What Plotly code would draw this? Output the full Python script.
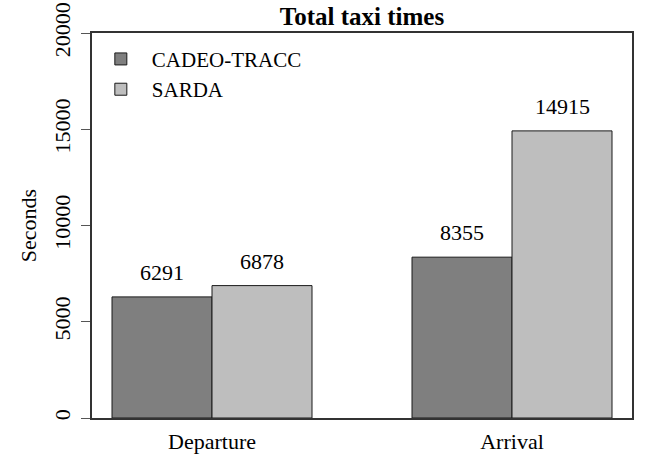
import plotly.graph_objects as go

categories = ["Departure", "Arrival"]
series_names = ["CADEO-TRACC", "SARDA"]
cadeo_values = [6291, 8355]
sarda_values = [6878, 14915]
series_values = [cadeo_values, sarda_values]
series_colors = ["#7f7f7f", "#bebebe"]
y_ticks = [0, 5000, 10000, 15000, 20000]

FONT = "Liberation Serif, Times New Roman, serif"

W, H = 646, 459

fig = go.Figure()
for name, vals, col in zip(series_names, series_values, series_colors):
    fig.add_trace(go.Bar(
        x=categories, y=vals, name=name,
        marker=dict(color=col, line=dict(color="#1a1a1a", width=1)),
    ))

# value labels above bars
shifts = [-50, 50]
for vals, xs in zip(series_values, shifts):
    for cat, v in zip(categories, vals):
        fig.add_annotation(x=cat, y=v, text=str(v), showarrow=False,
                           xshift=xs, yshift=10, yanchor="bottom",
                           font=dict(family=FONT, size=22, color="black"))

fig.update_layout(
    width=W, height=H,
    margin=dict(l=92, r=14, t=33, b=41, pad=0, autoexpand=False),
    paper_bgcolor="white", plot_bgcolor="white",
    barmode="group", bargap=1/3, bargroupgap=0,
    font=dict(family=FONT, size=22, color="black"),
    title=dict(text="<b>Total taxi times</b>", x=0.5, xref="paper",
               y=1 - 16/H, yanchor="middle", xanchor="center",
               font=dict(family=FONT, size=25, color="black")),
    showlegend=True,
    legend=dict(x=-0.004, y=0.985, xanchor="left", yanchor="top",
                bgcolor="rgba(0,0,0,0)", font=dict(family=FONT, size=21),
                itemwidth=52,
                traceorder="normal", tracegroupgap=0),
)
fig.update_xaxes(
    range=[-0.4, 1.4], showline=True, linecolor="#333333", linewidth=1.5,
    mirror=True, ticks="", showgrid=False, zeroline=False,
    ticklabelstandoff=3, automargin=False,
)
fig.update_yaxes(
    range=[0, 20000], tickvals=y_ticks, ticktext=[str(t) for t in y_ticks],
    tickangle=-90, ticks="outside", ticklen=9, tickcolor="#555555",
    tickwidth=1.2, automargin=False, ticklabeloverflow="allow",
    showline=True, linecolor="#333333", linewidth=1.5, mirror=True,
    showgrid=False, zeroline=False, ticklabelstandoff=2,
    title=dict(text="Seconds", standoff=8, font=dict(family=FONT, size=22)),
)

fig.write_html("out.html",
               config={"displayModeBar": False},
               post_script="document.body.style.margin='0';")
